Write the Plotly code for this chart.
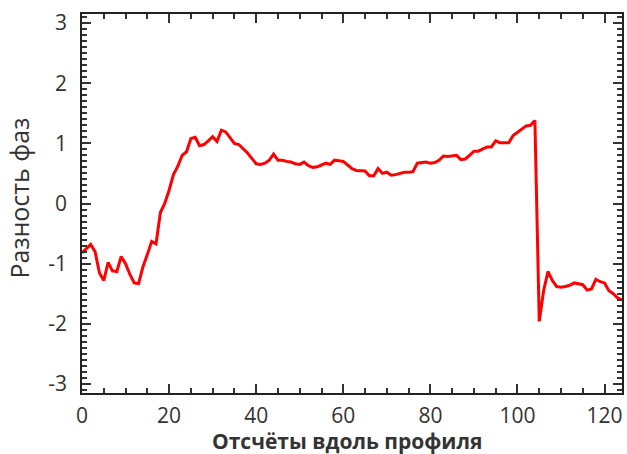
import plotly.graph_objects as go

samples = list(range(125))
phase_diff = [
    -0.82, -0.75, -0.68, -0.80, -1.15, -1.28, -0.98, -1.12, -1.13, -0.88,
    -1.00, -1.18, -1.32, -1.33, -1.05, -0.85, -0.63, -0.67, -0.15, 0.00,
    0.22, 0.48, 0.62, 0.80, 0.86, 1.08, 1.10, 0.96, 0.98, 1.04,
    1.11, 1.03, 1.22, 1.19, 1.10, 1.00, 0.98, 0.91, 0.84, 0.75,
    0.66, 0.65, 0.67, 0.72, 0.82, 0.72, 0.72, 0.70, 0.69, 0.66,
    0.65, 0.69, 0.63, 0.60, 0.61, 0.64, 0.67, 0.65, 0.72, 0.71,
    0.70, 0.64, 0.58, 0.55, 0.54, 0.54, 0.46, 0.46, 0.58, 0.50,
    0.52, 0.47, 0.48, 0.50, 0.52, 0.52, 0.53, 0.67, 0.68, 0.69,
    0.67, 0.68, 0.72, 0.79, 0.78, 0.79, 0.80, 0.73, 0.74, 0.80,
    0.87, 0.87, 0.91, 0.94, 0.94, 1.04, 1.01, 1.01, 1.01, 1.13,
    1.18, 1.23, 1.29, 1.30, 1.38, -1.96, -1.45, -1.13, -1.28, -1.38,
    -1.39, -1.38, -1.36, -1.32, -1.33, -1.35, -1.44, -1.42, -1.26, -1.30,
    -1.32, -1.45, -1.50, -1.57, -1.60,
]

x_tick_vals = [0, 20, 40, 60, 80, 100, 120]
x_tick_text = ["0", "20", "40", "60", "80", "100", "120"]
y_tick_vals = [-3, -2, -1, 0, 1, 2, 3]
y_tick_text = ["-3", "-2", "-1", "0", "1", "2", "3"]
x_minor_vals = [5 * k for k in range(25)]
y_minor_vals = [round(-3.1 + 0.1 * k, 2) for k in range(63)]
x_title = "Отсчёты вдоль профиля"
y_title = "Разность фаз"

fig = go.Figure()
fig.add_trace(go.Scatter(
    x=samples, y=phase_diff, mode="lines",
    line=dict(color="#ff0000", width=3),
    showlegend=False,
))

font_fam = "Open Sans, sans-serif"
axis_common = dict(
    showgrid=False, zeroline=False, automargin=False,
    showline=True, linecolor="#222", linewidth=1.5,
    mirror="ticks", ticks="inside", ticklen=9, tickwidth=2, tickcolor="#333",
    tickfont=dict(family=font_fam, size=21, color="#333"),
    layer="above traces",
)

fig.update_xaxes(
    range=[0, 124], tickmode="array", tickvals=x_tick_vals, ticktext=x_tick_text,
    minor=dict(tickmode="array", tickvals=x_minor_vals, ticks="inside", ticklen=5, tickwidth=1.5, tickcolor="#333"),
    ticklabelstandoff=3,
    **axis_common,
)
fig.update_yaxes(
    range=[-3.15, 3.15], tickmode="array", tickvals=y_tick_vals, ticktext=y_tick_text,
    minor=dict(tickmode="array", tickvals=y_minor_vals, ticks="inside", ticklen=5, tickwidth=1.5, tickcolor="#333"),
    ticklabelstandoff=9,
    **axis_common,
)

fig.add_annotation(
    text="<b>" + x_title + "</b>", xref="paper", yref="paper", x=0.49, y=0,
    yshift=-48, xanchor="center", yanchor="middle", showarrow=False,
    font=dict(family=font_fam, size=21, color="#333"),
)
fig.add_annotation(
    text=y_title, xref="paper", yref="paper", x=0, y=0.5,
    xshift=-64, yshift=5, xanchor="center", yanchor="middle", showarrow=False,
    textangle=-90, font=dict(family=font_fam, size=25, color="#333"),
)

fig.update_layout(
    width=627, height=454,
    margin=dict(l=82, r=5, t=14, b=61),
    paper_bgcolor="white", plot_bgcolor="white",
)

fig.write_html(
    "out.html",
    config={"displayModeBar": False},
    post_script="document.body.style.margin='0';document.body.style.overflow='hidden';",
)
